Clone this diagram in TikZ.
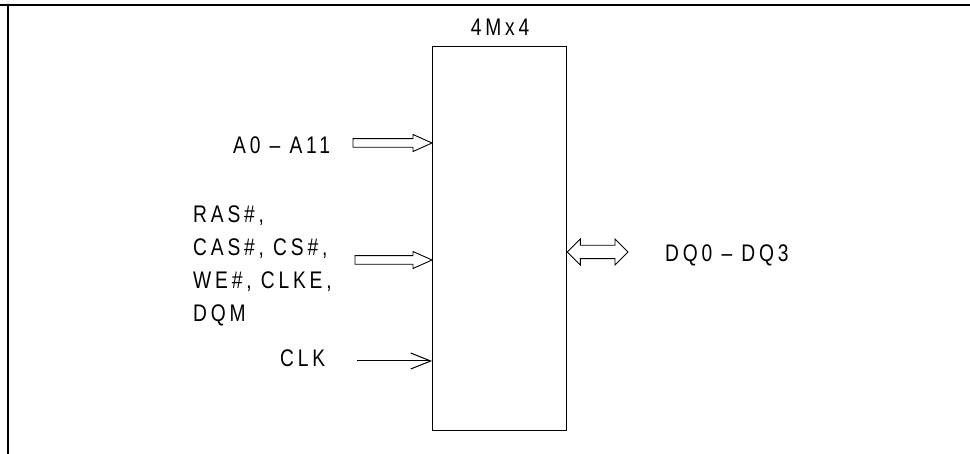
\documentclass[tikz,border=0pt]{standalone}
\usepackage{fontspec}
\usetikzlibrary{arrows.meta,calc}
\newfontfamily\lab[FakeStretch=0.8,LetterSpace=16]{Liberation Sans}
\tikzset{
  lbl/.style={font=\lab\fontsize{24}{33}\selectfont, inner sep=0pt, text=black},
  chipbox/.style={draw, line width=1.3pt, minimum width=134pt, minimum height=384pt, inner sep=0pt, anchor=north west},
  frame/.style={line width=2pt},
  hol/.style={draw, line width=0.9pt, fill=white, line join=miter},
  thinarrow/.style={line width=1pt, -{Straight Barb[length=20pt,width=16pt,line width=1pt]}}
}
\newcommand\harrowone[2]{%
  \path[hol] let \p1=(#1), \p2=(#2) in
    (\x1,\y1+4.3pt) -- (\x2-19pt,\y1+4.3pt) -- (\x2-19pt,\y1+8.5pt) -- (\x2,\y1)
    -- (\x2-19pt,\y1-8.5pt) -- (\x2-19pt,\y1-4.3pt) -- (\x1,\y1-4.3pt) -- cycle;}
\newcommand\harrowtwo[2]{%
  \path[hol] let \p1=(#1), \p2=(#2) in
    (\x1,\y1) -- (\x1+13pt,\y1+13pt) -- (\x1+13pt,\y1+6.7pt) -- (\x2-13pt,\y1+6.7pt)
    -- (\x2-13pt,\y1+13pt) -- (\x2,\y1) -- (\x2-13pt,\y1-13pt) -- (\x2-13pt,\y1-6.7pt)
    -- (\x1+13pt,\y1-6.7pt) -- (\x1+13pt,\y1-13pt) -- cycle;}
\begin{document}
\begin{tikzpicture}[x=1pt,y=-1pt]
\useasboundingbox (0,0) rectangle (970,454);
% frame
\draw[frame] (0,5) -- (970,5);
\draw[frame] (8,5) -- (8,454);
% chip
\node[chipbox] (chip) at (432,46) {};
\node[lbl] (title) at (500,27) {4Mx4};
% labels
\node[lbl, anchor=west] (addr) at (233,145) {A0 – A11};
\node[lbl, anchor=north west, align=left] (ctrl) at (193,205.5) {RAS\#,\\CAS\#, CS\#,\\WE\#, CLKE,\\DQM};
\node[lbl, anchor=west] (clk) at (280,358) {CLK};
\node[lbl, anchor=west] (dq) at (665,255) {DQ0 – DQ3};
% connector ends
\coordinate (addrS) at (353,143);
\coordinate (addrE) at (chip.west |- addrS);
\coordinate (ctrlS) at (355,260);
\coordinate (ctrlE) at (chip.west |- ctrlS);
\coordinate (clkS) at (357,361);
\coordinate (clkE) at (chip.west |- clkS);
\coordinate (dqS) at (chip.east |- 0,252);
\coordinate (dqE) at (628,252);
% arrows
\harrowone{addrS}{addrE}
\harrowone{ctrlS}{ctrlE}
\harrowtwo{dqS}{dqE}
\draw[thinarrow] (clkS) -- (clkE);
\end{tikzpicture}
\end{document}
